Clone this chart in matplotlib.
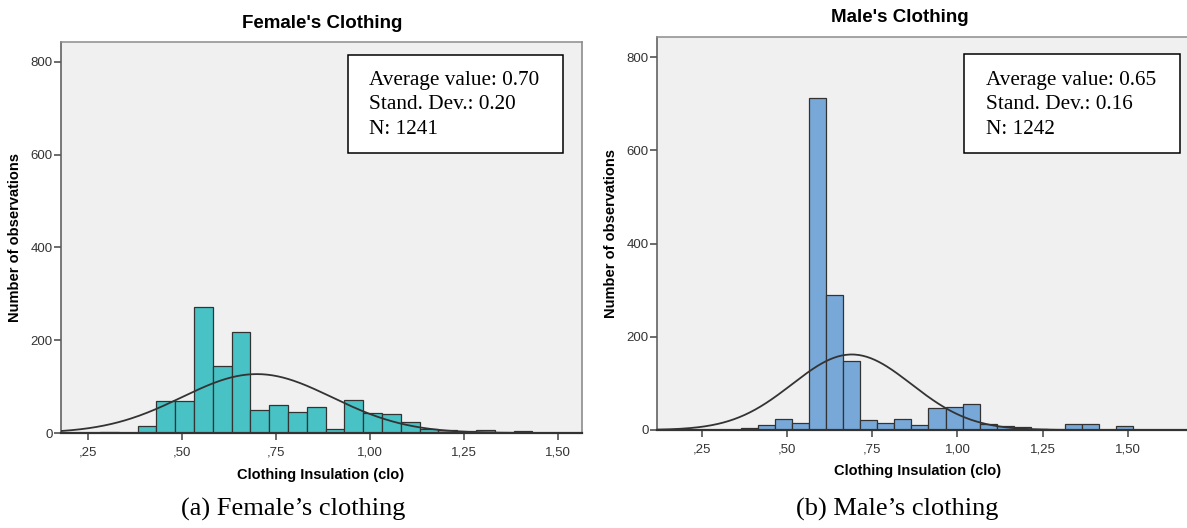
import numpy as np
import matplotlib
matplotlib.use("Agg")
import matplotlib.pyplot as plt
from matplotlib.patches import Rectangle

# histogram counts, bins are 0.05 clo wide
bin_width = 0.05
female_first_edge = 0.283
female_counts = [2, 0, 16, 70, 70, 271, 145, 217, 50, 60, 46, 57, 9, 71,
                 44, 40, 24, 9, 6, 4, 6, 0, 4]
male_first_edge = 0.365
male_counts = [4, 11, 24, 14, 712, 289, 147, 21, 14, 24, 10, 48, 50, 55,
               12, 9, 7, 3, 1, 13, 13, 0, 9]

# fitted normal curves (mean, sd, peak height as drawn)
female_fit = (0.70, 0.20, 127)
male_fit = (0.69, 0.175, 162)

female_stats = ["Average value: 0.70", "Stand. Dev.: 0.20", "N: 1241"]
male_stats = ["Average value: 0.65", "Stand. Dev.: 0.16", "N: 1242"]

xticks = [0.25, 0.50, 0.75, 1.00, 1.25, 1.50]
xtick_labels = [",25", ",50", ",75", "1,00", "1,25", "1,50"]
yticks = [0, 200, 400, 600, 800]

W, H = 1187, 528
fig = plt.figure(figsize=(W / 100, H / 100), dpi=100)

sans = ["Liberation Sans", "DejaVu Sans"]
narrow = ["Liberation Sans Narrow", "Liberation Sans", "DejaVu Sans"]
serif = ["Liberation Serif", "DejaVu Serif"]


def px_axes(x0, y0, x1, y1):
    # pixel box (top-left origin) -> figure axes
    return fig.add_axes([x0 / W, 1 - y1 / H, (x1 - x0) / W, (y1 - y0) / H])


def draw_panel(ax, first_edge, counts, color, fit, xlim, stats, box, text_x,
               right_spine=True):
    lefts = first_edge + bin_width * np.arange(len(counts))
    ax.bar(lefts, counts, width=bin_width, align="edge", color=color,
           edgecolor="#333333", linewidth=0.9, zorder=2)
    mu, sd, peak = fit
    xs = np.linspace(xlim[0], xlim[1], 400)
    ax.plot(xs, peak * np.exp(-0.5 * ((xs - mu) / sd) ** 2), color="#333333",
            lw=1.3, zorder=3)
    ax.set_xlim(*xlim)
    ax.set_ylim(0, 843)
    ax.set_facecolor("#f0f0f0")
    ax.set_xticks(xticks)
    ax.set_xticklabels(xtick_labels)
    ax.set_yticks(yticks)
    ax.tick_params(axis="both", direction="out", length=5, width=1.1,
                   color="#444444", labelcolor="#333333", labelsize=9.5)
    ax.tick_params(axis="x", pad=5)
    ax.tick_params(axis="y", pad=1)
    for lab in ax.get_xticklabels() + ax.get_yticklabels():
        lab.set_family(narrow)
    ax.spines["left"].set_color("#555555")
    ax.spines["left"].set_linewidth(1.1)
    ax.spines["top"].set_color("#8c8c8c")
    ax.spines["top"].set_linewidth(1.1)
    ax.spines["right"].set_color("#8c8c8c")
    ax.spines["right"].set_linewidth(1.2)
    ax.spines["right"].set_visible(right_spine)
    ax.spines["bottom"].set_color("#333333")
    ax.spines["bottom"].set_linewidth(1.6)
    ax.spines["bottom"].set_zorder(4)
    # statistics box
    bx0, by0, bx1, by1 = box
    ax.add_patch(Rectangle((bx0, by0), bx1 - bx0, by1 - by0, transform=ax.transAxes,
                           facecolor="white", edgecolor="black", lw=1.1, zorder=5))
    for line, baseline in zip(stats, [84.7, 109.2, 134.0]):
        fig.text(text_x / W, 1 - baseline / H, line, ha="left", va="baseline",
                 fontsize=15.3, family=serif, zorder=6)


ax1 = px_axes(61, 42, 582, 433)
draw_panel(ax1, female_first_edge, female_counts, "#48c2c5", female_fit,
           (0.179, 1.565), female_stats, (0.551, 0.716, 0.9635, 0.9668), 369)

ax2 = px_axes(657, 37, 1187, 430)
draw_panel(ax2, male_first_edge, male_counts, "#78a8d8", male_fit,
           (0.119, 1.673), male_stats, (0.579, 0.706, 0.987, 0.956), 986,
           right_spine=False)

# titles, axis labels and captions
fig.text(322 / W, 1 - 23.5 / H, "Female's Clothing", ha="center", va="center",
         fontsize=13.5, fontweight="bold", family=sans)
fig.text(900 / W, 1 - 17.5 / H, "Male's Clothing", ha="center", va="center",
         fontsize=13.5, fontweight="bold", family=sans)
fig.text(15 / W, 1 - 238 / H, "Number of observations", rotation=90, ha="center",
         va="center", fontsize=10.5, fontweight="bold", family=sans)
fig.text(611 / W, 1 - 233.5 / H, "Number of observations", rotation=90, ha="center",
         va="center", fontsize=10.5, fontweight="bold", family=sans)
fig.text(321 / W, 1 - 474.5 / H, "Clothing Insulation (clo)", ha="center", va="center",
         fontsize=10.5, fontweight="bold", family=sans)
fig.text(918 / W, 1 - 471 / H, "Clothing Insulation (clo)", ha="center", va="center",
         fontsize=10.5, fontweight="bold", family=sans)
fig.text(293 / W, 1 - 509 / H, "(a) Female\u2019s clothing", ha="center", va="center",
         fontsize=19, family=serif)
fig.text(897 / W, 1 - 509 / H, "(b) Male\u2019s clothing", ha="center", va="center",
         fontsize=19, family=serif)

fig.savefig("out.png", dpi=100, facecolor="white")
